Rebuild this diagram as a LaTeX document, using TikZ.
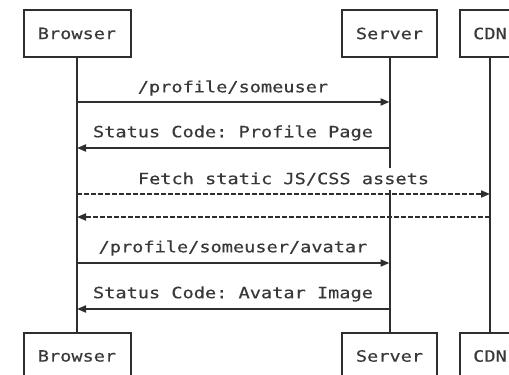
\documentclass[tikz,border=0pt]{standalone}
\usepackage{fontspec}
\setmonofont[FakeStretch=1.2,FakeBold=0.4]{DejaVu Sans Mono}
\usetikzlibrary{arrows.meta}
\definecolor{ink}{HTML}{2E2E2E}
\definecolor{txt}{HTML}{383838}
\tikzset{
  actor/.style={draw=ink, line width=2pt, fill=white, minimum height=47pt, inner sep=0pt,
    font=\ttfamily\fontsize{15.5}{18}\selectfont, text=txt},
  life/.style={draw=ink, line width=2pt},
  msg/.style={draw=ink, line width=2pt, -{Triangle[length=9pt,width=7pt]}},
  ret/.style={msg, dash pattern=on 5pt off 2pt},
  lbl/.style={fill=white, inner xsep=2pt, inner ysep=4pt, font=\ttfamily\fontsize{15.5}{18}\selectfont, text=txt}
}
\begin{document}
\begin{tikzpicture}[x=1pt,y=-1pt]
\useasboundingbox (0,0) rectangle (509,375);
\clip (0,0) rectangle (509,375);
% top actors
\node[actor, minimum width=107pt] (bt) at (77,33.5) {Browser};
\node[actor, minimum width=95pt] (st) at (389.5,33.5) {Server};
\node[actor, minimum width=61pt] (ct) at (490,33.5) {CDN};
% bottom actors
\node[actor, minimum width=107pt] (bb) at (77,356) {Browser};
\node[actor, minimum width=95pt] (sb) at (389.5,356) {Server};
\node[actor, minimum width=61pt] (cb) at (490,356) {CDN};
% lifelines
\draw[life] (bt.south) -- (bb.north);
\draw[life] (st.south) -- (sb.north);
\draw[life] (ct.south) -- (cb.north);
% message anchor points
\coordinate (b1) at (77,102);  \coordinate (s1) at (389.5,102);
\coordinate (b2) at (77,148);  \coordinate (s2) at (389.5,148);
\coordinate (b3) at (77,194);  \coordinate (c3) at (490,194);
\coordinate (b4) at (77,217);  \coordinate (c4) at (490,217);
\coordinate (b5) at (77,263);  \coordinate (s5) at (389.5,263);
\coordinate (b6) at (77,309);  \coordinate (s6) at (389.5,309);
% messages
\draw[msg] (b1) -- (s1);
\draw[msg] (s2) -- (b2);
\draw[ret] (b3) -- (c3);
\draw[ret] (c4) -- (b4);
\draw[msg] (b5) -- (s5);
\draw[msg] (s6) -- (b6);
% labels
\node[lbl] (l1) at (233,88) {/profile/someuser};
\node[lbl] (l2) at (233,133) {Status Code: Profile Page};
\node[lbl] (l3) at (283.5,179) {Fetch static JS/CSS assets};
\node[lbl] (l5) at (233,248) {/profile/someuser/avatar};
\node[lbl] (l6) at (233,294) {Status Code: Avatar Image};
\end{tikzpicture}
\end{document}
